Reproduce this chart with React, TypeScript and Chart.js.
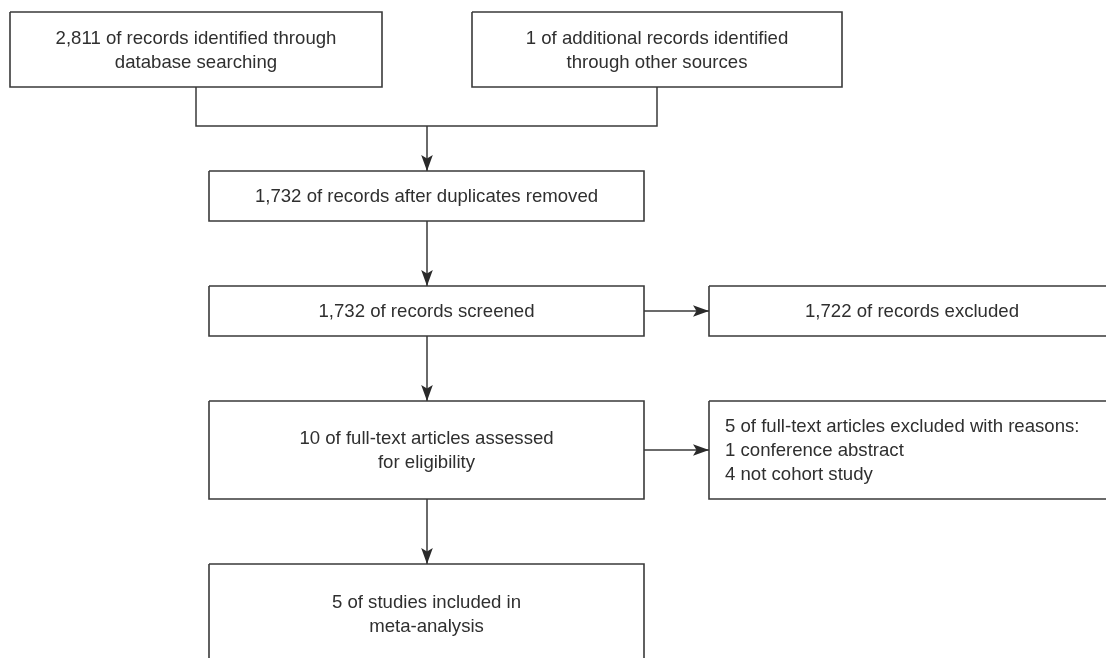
import { useEffect, useRef } from "react";
import { Chart, registerables } from "chart.js";

Chart.register(...registerables);

// ---- Diagram data (in diagram units; mapped through the chart's linear scales) ----
const boxText: string[][] = [
  ["2,811 of records identified through", "database searching"],
  ["1 of additional records identified", "through other sources"],
  ["1,732 of records after duplicates removed"],
  ["1,732 of records screened"],
  ["1,722 of records excluded"],
  ["10 of full-text articles assessed", "for eligibility"],
  ["5 of full-text articles excluded with reasons:", "1 conference abstract", "4 not cohort study"],
  ["5 of studies included in", "meta-analysis"],
];
const boxAlign: string[] = ["center", "center", "center", "center", "center", "center", "left", "center"];
const boxX0: number[] = [10, 472, 209, 209, 709, 209, 709, 209];
const boxX1: number[] = [382, 842, 644, 644, 1115, 644, 1115, 644];
const boxY0: number[] = [12, 12, 171, 286, 286, 401, 401, 564];
const boxY1: number[] = [87, 87, 221, 336, 336, 499, 499, 664];

const linkX: number[][] = [
  [196, 196, 657, 657],
  [427, 427],
  [427, 427],
  [644, 709],
  [427, 427],
  [644, 709],
  [427, 427],
];
const linkY: number[][] = [
  [87, 126, 126, 87],
  [126, 171],
  [221, 286],
  [311, 311],
  [336, 401],
  [450, 450],
  [499, 564],
];
const linkArrow: boolean[] = [false, true, true, true, true, true, true];

const W = 1106;
const H = 658;
const LINE = "#3a3a3a";
const TEXT = "#2f2f2f";
const FONT = '18.6px "Liberation Sans", Arial, Helvetica, sans-serif';
const LINE_H = 24;

const overlay = {
  id: "flowOverlay",
  afterDatasetsDraw(chart: any) {
    const { ctx, scales } = chart;
    const xs = scales.x;
    const ys = scales.y;
    ctx.save();
    // arrowheads
    ctx.fillStyle = "#2a2a2a";
    linkX.forEach((lx, i) => {
      if (!linkArrow[i]) return;
      const n = lx.length;
      const x1 = xs.getPixelForValue(lx[n - 1]);
      const y1 = ys.getPixelForValue(linkY[i][n - 1]);
      const x0 = xs.getPixelForValue(lx[n - 2]);
      const y0 = ys.getPixelForValue(linkY[i][n - 2]);
      const ang = Math.atan2(y1 - y0, x1 - x0);
      const len = 16;
      const hw = 5.8;
      const notch = 3.5;
      ctx.save();
      ctx.translate(x1, y1);
      ctx.rotate(ang);
      ctx.beginPath();
      ctx.moveTo(0, 0);
      ctx.lineTo(-len, -hw);
      ctx.lineTo(-len + notch, 0);
      ctx.lineTo(-len, hw);
      ctx.closePath();
      ctx.fill();
      ctx.restore();
    });
    // text
    ctx.fillStyle = TEXT;
    ctx.font = FONT;
    ctx.textBaseline = "middle";
    boxText.forEach((lines, i) => {
      const left = xs.getPixelForValue(boxX0[i]);
      const right = xs.getPixelForValue(boxX1[i]);
      const top = ys.getPixelForValue(boxY0[i]);
      const bottom = ys.getPixelForValue(boxY1[i]);
      const cy = (top + bottom) / 2;
      const startY = cy - ((lines.length - 1) * LINE_H) / 2;
      lines.forEach((t, k) => {
        const y = startY + k * LINE_H + 1;
        if (boxAlign[i] === "left") {
          ctx.textAlign = "left";
          ctx.fillText(t, left + 16, y);
        } else {
          ctx.textAlign = "center";
          ctx.fillText(t, (left + right) / 2, y);
        }
      });
    });
    ctx.restore();
  },
};

export default function App() {
  const ref = useRef<HTMLCanvasElement | null>(null);
  useEffect(() => {
    document.body.style.margin = "0";
    document.body.style.background = "#ffffff";
    if (!ref.current) return;
    const boxSets = boxX0.map((x0, i) => ({
      data: [
        { x: x0, y: boxY0[i] },
        { x: boxX1[i], y: boxY0[i] },
        { x: boxX1[i], y: boxY1[i] },
        { x: x0, y: boxY1[i] },
        { x: x0, y: boxY0[i] },
      ],
      showLine: true,
      borderColor: LINE,
      borderWidth: 1.6,
      borderJoinStyle: "miter" as const,
      pointRadius: 0,
      tension: 0,
    }));
    const linkSets = linkX.map((lx, i) => ({
      data: lx.map((x, k) => ({ x, y: linkY[i][k] })),
      showLine: true,
      borderColor: LINE,
      borderWidth: 1.5,
      borderJoinStyle: "miter" as const,
      pointRadius: 0,
      tension: 0,
    }));
    const chart = new Chart(ref.current, {
      type: "scatter",
      data: { datasets: [...boxSets, ...linkSets] as any },
      options: {
        animation: false,
        responsive: false,
        maintainAspectRatio: false,
        events: [],
        layout: { padding: 0 },
        plugins: { legend: { display: false }, tooltip: { enabled: false }, title: { display: false } },
        scales: {
          x: { type: "linear", min: 0, max: W, display: false },
          y: { type: "linear", min: 0, max: H, reverse: true, display: false },
        },
      },
      plugins: [overlay],
    });
    return () => chart.destroy();
  }, []);
  return (
    <div style={{ width: W, height: H, background: "#fff" }}>
      <canvas ref={ref} width={W} height={H} style={{ display: "block", width: W, height: H }} />
    </div>
  );
}
